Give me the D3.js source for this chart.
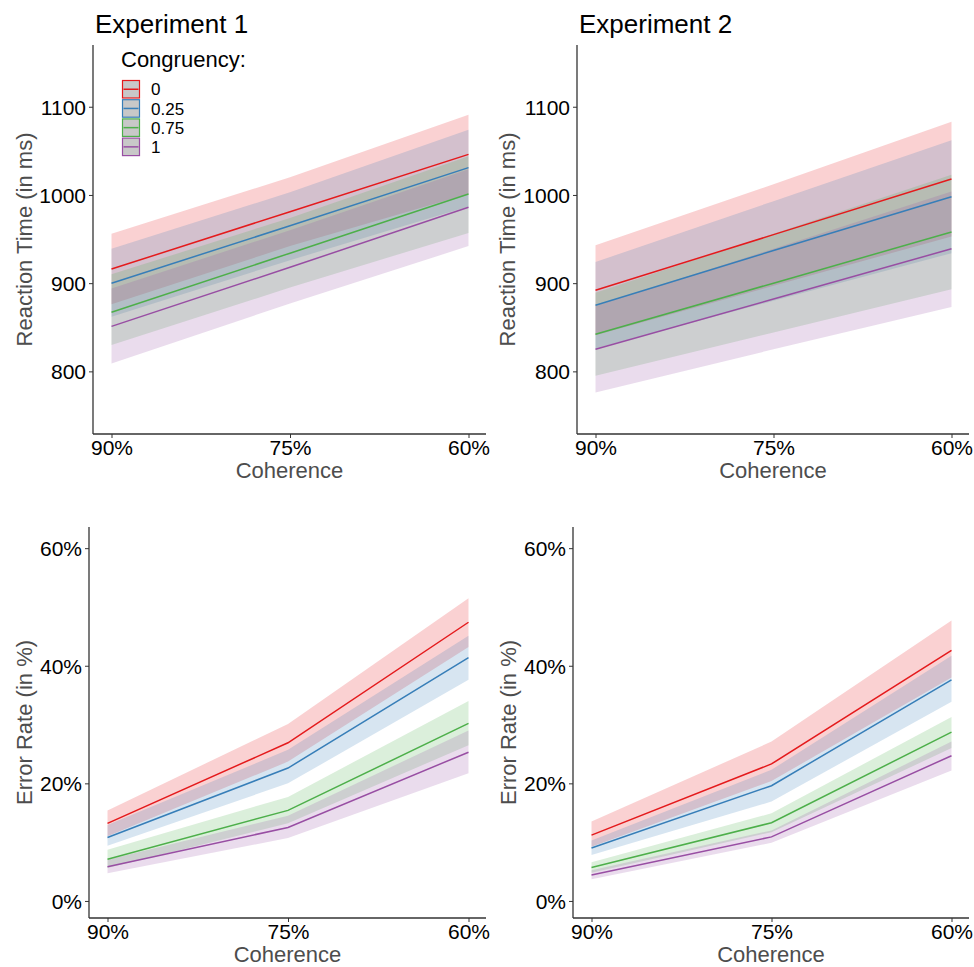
<!DOCTYPE html>
<html>
<head>
<meta charset="utf-8">
<script src="https://cdn.jsdelivr.net/npm/d3@7"></script>
<style>
  body { margin: 0; background: #fff; }
  text { font-family: "Liberation Sans", Arial, sans-serif; }
</style>
</head>
<body>
<div id="wrapper"></div>
<script>
// categories
const coherence = ["90%", "75%", "60%"]
const congruency = ["0", "0.25", "0.75", "1"]
const colors = ["#E41A1C", "#377EB8", "#4DAF4A", "#984EA3"]

// tick labels
const rtTicks = [800, 900, 1000, 1100]
const erTicks = [0, 20, 40, 60]

// Experiment 1, reaction time (ms) - rows follow congruency
const exp1RtMean  = [[916, 981, 1046], [900, 965, 1031], [867, 934, 1001], [851, 918, 986]]
const exp1RtLower = [[876, 942, 1001], [862, 926, 987], [830, 895, 957], [809, 877, 942]]
const exp1RtUpper = [[956, 1020, 1091], [939, 1003, 1074], [910, 974, 1044], [894, 960, 1029]]

// Experiment 2, reaction time (ms)
const exp2RtMean  = [[892, 955, 1018], [875, 937, 998], [842, 900, 958], [825, 882, 939]]
const exp2RtLower = [[841, 897, 953], [826, 880, 934], [795, 844, 893], [776, 825, 873]]
const exp2RtUpper = [[943, 1012, 1083], [924, 993, 1062], [889, 956, 1023], [874, 939, 1004]]

// Experiment 1, error rate (%)
const exp1ErMean  = [[13.2, 26.9, 47.4], [10.8, 22.6, 41.4], [7.1, 15.4, 30.2], [5.8, 12.5, 25.3]]
const exp1ErLower = [[11.0, 23.7, 43.2], [9.4, 20.0, 37.6], [5.6, 13.2, 26.5], [4.7, 10.7, 21.7]]
const exp1ErUpper = [[15.4, 30.1, 51.5], [12.9, 25.7, 45.1], [8.7, 17.7, 34.0], [7.0, 14.5, 29.0]]

// Experiment 2, error rate (%)
const exp2ErMean  = [[11.2, 23.3, 42.6], [9.0, 19.6, 37.6], [5.7, 13.3, 28.7], [4.4, 10.9, 24.7]]
const exp2ErLower = [[9.2, 20.4, 38.0], [7.8, 16.9, 33.9], [4.8, 11.7, 26.0], [3.7, 9.9, 22.2]]
const exp2ErUpper = [[13.5, 27.1, 47.7], [10.3, 22.3, 41.7], [6.6, 14.9, 31.3], [5.2, 12.0, 27.1]]

function drawPanels() {
  const width = 974
  const height = 967

  const svg = d3.select("#wrapper")
    .append("svg")
      .attr("width", width)
      .attr("height", height)

  // panel frames (pixel boxes of each plotting area)
  const panels = [
    { title: "Experiment 1", ylab: "Reaction Time (in ms)", x0: 93, x1: 486, y0: 45, y1: 434,
      domain: [729, 1170], ticks: rtTicks, fmt: d => d, labX: 32,
      mean: exp1RtMean, lower: exp1RtLower, upper: exp1RtUpper, legend: true },
    { title: "Experiment 2", ylab: "Reaction Time (in ms)", x0: 577, x1: 969, y0: 45, y1: 434,
      domain: [729, 1170], ticks: rtTicks, fmt: d => d, labX: 515,
      mean: exp2RtMean, lower: exp2RtLower, upper: exp2RtUpper },
    { ylab: "Error Rate (in %)", x0: 89, x1: 486, y0: 527, y1: 918,
      domain: [-2.9, 63.6], ticks: erTicks, fmt: d => d + "%", labX: 32,
      mean: exp1ErMean, lower: exp1ErLower, upper: exp1ErUpper },
    { ylab: "Error Rate (in %)", x0: 573, x1: 969, y0: 527, y1: 918,
      domain: [-2.9, 63.6], ticks: erTicks, fmt: d => d + "%", labX: 516,
      mean: exp2ErMean, lower: exp2ErLower, upper: exp2ErUpper }
  ]

  panels.forEach(p => {
    const g = svg.append("g")

    const xScale = d3.scalePoint()
      .domain(coherence)
      .range([p.x0 + 18.5, p.x1 - 17.5])

    const yScale = d3.scaleLinear()
      .domain(p.domain)
      .range([p.y1, p.y0])

    // ribbons first, then lines
    const area = d3.area()
      .x((d, i) => xScale(coherence[i]))
      .y0(d => yScale(d[0]))
      .y1(d => yScale(d[1]))

    congruency.forEach((c, k) => {
      const band = p.lower[k].map((lo, i) => [lo, p.upper[k][i]])
      g.append("path")
        .attr("d", area(band))
        .attr("fill", colors[k])
        .attr("fill-opacity", 0.2)
    })

    const line = d3.line()
      .x((d, i) => xScale(coherence[i]))
      .y(d => yScale(d))

    congruency.forEach((c, k) => {
      g.append("path")
        .attr("d", line(p.mean[k]))
        .attr("fill", "none")
        .attr("stroke", colors[k])
        .attr("stroke-width", 1.5)
    })

    // y axis
    const yAxis = g.append("g")
      .attr("transform", `translate(${p.x0},0)`)
      .call(d3.axisLeft(yScale).tickValues(p.ticks).tickFormat(p.fmt)
        .tickSize(4).tickPadding(3))
    yAxis.select(".domain").remove()
    yAxis.selectAll("line").attr("stroke", "#333")
    yAxis.selectAll("text")
      .attr("fill", "#000")
      .style("font-size", "21px")
      .attr("dy", "0.36em")

    // x axis
    const xAxis = g.append("g")
      .attr("transform", `translate(0,${p.y1})`)
      .call(d3.axisBottom(xScale).tickSize(4).tickPadding(2))
    xAxis.select(".domain").remove()
    xAxis.selectAll("line").attr("stroke", "#333")
    xAxis.selectAll("text")
      .attr("fill", "#000")
      .style("font-size", "21px")

    // axis lines
    g.append("line")
      .attr("x1", p.x0).attr("x2", p.x0)
      .attr("y1", p.y0).attr("y2", p.y1)
      .attr("stroke", "#333").attr("stroke-width", 1.3)
    g.append("line")
      .attr("x1", p.x0).attr("x2", p.x1)
      .attr("y1", p.y1).attr("y2", p.y1)
      .attr("stroke", "#333").attr("stroke-width", 1.3)

    // axis titles
    g.append("text")
      .attr("x", (p.x0 + p.x1) / 2)
      .attr("y", p.y1 + 44)
      .attr("text-anchor", "middle")
      .attr("fill", "#4d4d4d")
      .style("font-size", "22px")
      .text("Coherence")

    g.append("text")
      .attr("transform", `translate(${p.labX},${(p.y0 + p.y1) / 2}) rotate(-90)`)
      .attr("text-anchor", "middle")
      .attr("fill", "#4d4d4d")
      .style("font-size", "22px")
      .text(p.ylab)

    if (p.title) {
      g.append("text")
        .attr("x", p.x0 + 2)
        .attr("y", 33)
        .attr("fill", "#000")
        .style("font-size", "26px")
        .text(p.title)
    }

    if (p.legend) {
      const lg = g.append("g").attr("transform", "translate(122,0)")
      lg.append("text")
        .attr("x", -1)
        .attr("y", 67)
        .attr("fill", "#000")
        .style("font-size", "22px")
        .text("Congruency:")
      congruency.forEach((c, k) => {
        const y = 80.5 + k * 19.2
        lg.append("rect")
          .attr("x", 0.5).attr("y", y)
          .attr("width", 17).attr("height", 17.5)
          .attr("fill", "#c8c8c8")
          .attr("stroke", colors[k])
          .attr("stroke-width", 1.2)
        lg.append("line")
          .attr("x1", 1.5).attr("x2", 16.5)
          .attr("y1", y + 8.75).attr("y2", y + 8.75)
          .attr("stroke", colors[k])
          .attr("stroke-width", 1.5)
        lg.append("text")
          .attr("x", 29)
          .attr("y", y + 8.75)
          .attr("dy", "0.36em")
          .attr("fill", "#000")
          .style("font-size", "17px")
          .text(c)
      })
    }
  })
}
drawPanels()
</script>
</body>
</html>
